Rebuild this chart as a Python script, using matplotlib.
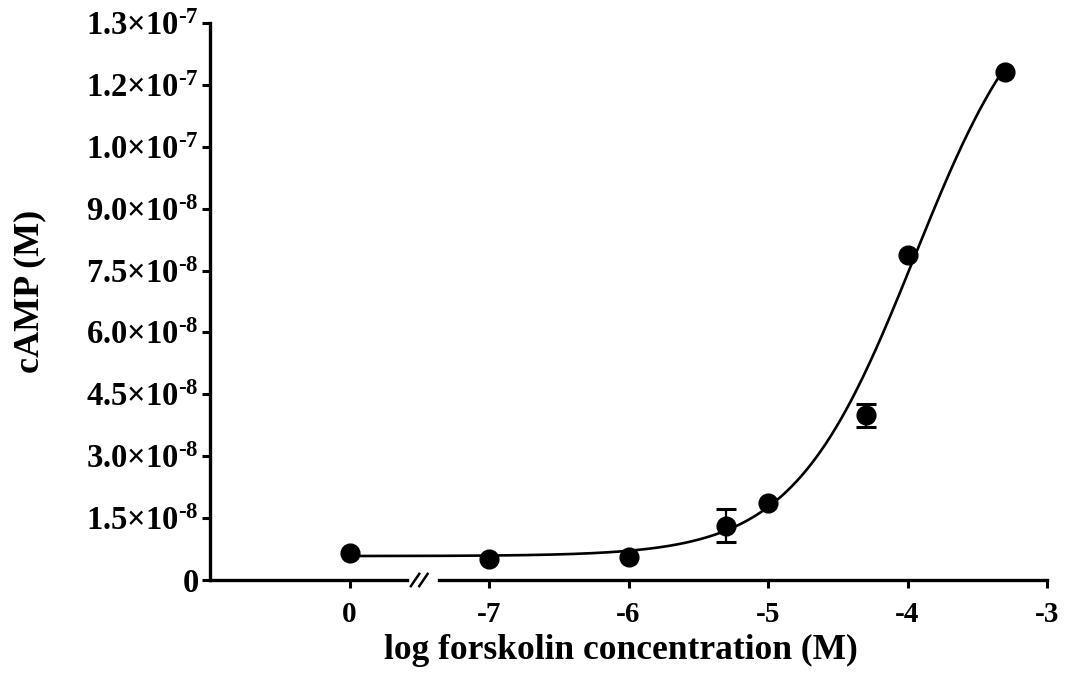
import matplotlib
matplotlib.use('Agg')
import matplotlib.pyplot as plt
import matplotlib.transforms as mtransforms
import numpy as np

plt.rcParams.update({
    'font.family': ['Liberation Serif', 'DejaVu Serif'],
    'font.weight': 'bold',
    'mathtext.fontset': 'custom',
    'mathtext.rm': 'Liberation Serif:bold',
    'mathtext.bf': 'Liberation Serif:bold',
    'mathtext.it': 'Liberation Serif:bold',
    'mathtext.default': 'bf',
})

# data (control "0" sits one log unit left of -7 on the broken axis)
log_conc = [-8, -7, -6, -5.3, -5, -4.3, -4, -3.3]
camp = [6.5e-9, 5.1e-9, 5.6e-9, 1.32e-8, 1.86e-8, 3.99e-8, 7.88e-8, 1.231e-7]
camp_err = [0, 0, 0, 4.1e-9, 0, 2.75e-9, 0, 0]

# sigmoidal fit parameters
fit_bottom = 5.8e-9
fit_top = 1.508e-7
fit_logec50 = -3.95
fit_hill = 1.0

x_ticks = [-8, -7, -6, -5, -4, -3]
x_ticklabels = ['0', '-7', '-6', '-5', '-4', '-3']
y_ticks = [0, 1.5e-8, 3.0e-8, 4.5e-8, 6.0e-8, 7.5e-8, 9.0e-8, 1.05e-7, 1.2e-7, 1.35e-7]
y_ticklabels = ['0', r'$1.5{\times}10^{\text{-8}}$', r'$3.0{\times}10^{\text{-8}}$',
                r'$4.5{\times}10^{\text{-8}}$', r'$6.0{\times}10^{\text{-8}}$',
                r'$7.5{\times}10^{\text{-8}}$', r'$9.0{\times}10^{\text{-8}}$',
                r'$1.0{\times}10^{\text{-7}}$', r'$1.2{\times}10^{\text{-7}}$',
                r'$1.3{\times}10^{\text{-7}}$']

fig = plt.figure(figsize=(10.65, 6.77), dpi=100)
ax = fig.add_axes([210/1065, 97/677, 837/1065, 557/677])

# fitted curve
xc = np.linspace(log_conc[0], log_conc[-1], 400)
yc = fit_bottom + (fit_top - fit_bottom) / (1 + 10 ** ((fit_logec50 - xc) * fit_hill))
ax.plot(xc, yc, color='black', lw=1.9, zorder=2)

# points, error bars only where an error is shown
ax.plot(log_conc, camp, 'o', color='black', ms=13.5, zorder=3)
ex = [x for x, e in zip(log_conc, camp_err) if e > 0]
ey = [y for y, e in zip(camp, camp_err) if e > 0]
ee = [e for e in camp_err if e > 0]
ax.errorbar(ex, ey, yerr=ee, fmt='none', ecolor='black', elinewidth=1.6,
            capsize=7.5, capthick=2.2, zorder=3)

ax.set_xlim(-9, -3)
ax.set_ylim(0, 1.35e-7)

ax.set_xticks(x_ticks)
ax.set_xticklabels(x_ticklabels)
ax.set_yticks(y_ticks)
ax.set_yticklabels(y_ticklabels)
ax.tick_params(axis='both', direction='out', length=6, width=2.2, pad=2)
ax.tick_params(axis='x', labelsize=21, pad=9)
ax.tick_params(axis='y', labelsize=23.5)

for side in ['top', 'right', 'bottom']:
    ax.spines[side].set_visible(False)
ax.spines['left'].set_linewidth(2.4)

# broken x axis
trans = mtransforms.blended_transform_factory(ax.transData, ax.transAxes)
ax.plot([-9, -7.59], [0, 0], color='black', lw=2.4, transform=trans, clip_on=False,
        solid_capstyle='projecting')
ax.plot([-7.36, -3], [0, 0], color='black', lw=2.4, transform=trans, clip_on=False,
        solid_capstyle='projecting')
for x0 in [-7.53, -7.47]:
    ax.plot([x0 - 0.03, x0 + 0.03], [-0.011, 0.011], color='black', lw=1.8,
            transform=trans, clip_on=False)

ax.set_xlabel('log forskolin concentration (M)', fontsize=25.5, fontweight='bold')
ax.xaxis.set_label_coords(0.491, -0.097)
ax.set_ylabel('cAMP (M)', fontsize=26, fontweight='bold')
ax.yaxis.set_label_coords(-0.196, 0.518)

fig.savefig('out.png', dpi=100)
